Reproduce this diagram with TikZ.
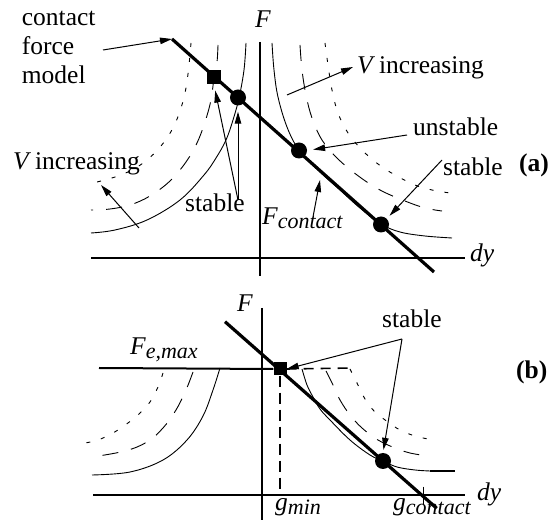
\documentclass[tikz,border=0pt]{standalone}
\usepackage{fontspec}
\setmainfont{Liberation Serif}
\usetikzlibrary{arrows.meta}
\newcommand{\subtxt}[1]{\raisebox{-4pt}{\fontsize{22}{24}\selectfont\itshape #1}}
\begin{document}
\begin{tikzpicture}[x=1pt,y=-1pt,
  cline/.style={line width=3.2pt},
  axisl/.style={line width=2pt},
  curve/.style={line width=0.9pt},
  dashc/.style={curve, dash pattern=on 16pt off 13pt},
  dotc/.style={curve, dash pattern=on 4pt off 11pt},
  arr/.style={line width=1pt, -{Triangle[length=12pt,width=6.5pt]}},
  lbl/.style={inner sep=0pt, font=\fontsize{25.5}{30}\selectfont},
  sqm/.style={rectangle, fill, minimum size=14pt, inner sep=0pt},
  dotm/.style={circle, fill, minimum size=16pt, inner sep=0pt}]
\useasboundingbox (0,0) rectangle (555,529);

% ---------------- panel (a) ----------------
\coordinate (ayt) at (259.5,42);
\coordinate (ayb) at (259.5,276);
\coordinate (axl) at (91,257.7);
\coordinate (axr) at (465,257.7);
\draw[axisl] (ayt) -- (ayb);
\draw[axisl] (axl) -- (axr);

% curves left branch
\draw[curve] plot[smooth, tension=0.6] coordinates {(246,43) (244,70) (239,98) (233,120) (226,140) (216,158) (204,175) (180,200) (147,220) (115,230) (91,233)};
\draw[dashc] plot[smooth, tension=0.6] coordinates {(218,45) (217,62) (214,78) (211,100) (205,122) (197,143) (186,162) (170,181) (150,196) (130,205) (110,209) (91,210)};
\draw[dotc] plot[smooth, tension=0.6] coordinates {(191,43) (189,65) (186,88) (181,108) (173,128) (161,146) (147,160) (132,170) (115,177) (97,182)};
% curves right branch
\draw[curve] plot[smooth, tension=0.6] coordinates {(272,43) (274,70) (278,97) (287,127) (299,150) (320,172) (340,190) (360,208) (381,224) (400,232) (425,236) (452,238)};
\draw[dashc] plot[smooth, tension=0.6] coordinates {(300,45) (302,70) (306,95) (312,118) (322,140) (337,158) (357,175) (380,190) (405,201) (425,208) (442,211)};
\draw[dotc] plot[smooth, tension=0.6] coordinates {(325,43) (328,65) (332,90) (338,113) (348,133) (362,150) (378,164) (395,175) (415,185) (432,190) (450,193)};

% contact force line
\coordinate (la1) at (172,39);
\coordinate (la2) at (434,272);
\draw[cline] (la1) -- (la2);
\node[sqm] (sqa) at (214,77.5) {};
\node[dotm] (ca1) at (238,97.5) {};
\node[dotm] (ca2) at (299,150.5) {};
\node[dotm] (ca3) at (381,224.5) {};

% labels (a)
\node[lbl, anchor=base] (Fa) at (263,28) {\itshape F};
\node[lbl, anchor=base west] (dya) at (470,262) {\itshape dy};
\node[lbl, anchor=base west] (cfm1) at (21.7,26) {contact};
\node[lbl, anchor=base west] (cfm2) at (21.7,55) {force};
\node[lbl, anchor=base west] (cfm3) at (21.7,84) {model};
\node[lbl, anchor=base west] (vil) at (13,170) {{\itshape V} increasing};
\node[lbl, anchor=base west] (vir) at (357,74) {{\itshape V} increasing};
\node[lbl, anchor=base west] (uns) at (413,136) {unstable};
\node[lbl, anchor=base west] (sar) at (443,176) {stable};
\node[lbl, anchor=base west] (sal) at (185,212) {stable};
\node[lbl, anchor=base west] (fc) at (262,225) {{\itshape F}\subtxt{contact}};
\node[lbl, anchor=base west] (pa) at (519,172) {\bfseries (a)};

% arrows (a)
\coordinate (cfmS) at (103,50);
\draw[arr] (cfmS) -- (la1);
\coordinate (vilS) at (139,228);
\coordinate (vilE) at (101,185);
\draw[arr] (vilS) -- (vilE);
\coordinate (virS) at (287,95);
\coordinate (virE) at (353,67);
\draw[arr] (virS) -- (virE);
\coordinate (unsS) at (407,135);
\draw[arr, shorten >=6pt] (unsS) -- (ca2.east);
\coordinate (sarS) at (442,160);
\draw[arr, shorten >=4pt] (sarS) -- (ca3.north east);
\coordinate (salS) at (238,200);
\draw[arr, shorten >=6pt] (salS) -- (sqa.south);
\draw[arr, shorten >=6pt] (salS) -- (ca1.south);
\coordinate (fcS) at (313,217);
\coordinate (fcE) at (320,180);
\draw[arr] (fcS) -- (fcE);

% ---------------- panel (b) ----------------
\coordinate (byt) at (261.7,308);
\coordinate (byb) at (261.7,520);
\coordinate (bxl) at (93,495);
\coordinate (bxr) at (465,495);
\draw[axisl] (byt) -- (byb);
\draw[axisl] (bxl) -- (bxr);

\coordinate (lb1) at (225,321.7);
\coordinate (lb2) at (436.7,508.3);
\node[sqm, minimum size=13pt] (sqb) at (280,369) {};
\coordinate (feL) at (99,368);
\coordinate (feR) at (353,368);
\coordinate (gmin) at (280,495);
\draw[axisl] (feL) -- (sqb.west);
\draw[line width=1.6pt, dash pattern=on 10pt off 7pt] (sqb.east) -- (feR);
\draw[line width=1.6pt, dash pattern=on 11pt off 6pt] (sqb.south) -- (gmin);

% curves (b) left
\draw[curve] plot[smooth, tension=0.6] coordinates {(220,368) (213,390) (203,416) (187,440) (163,460) (130,472) (92,475)};
\draw[dashc] plot[smooth, tension=0.6] coordinates {(193,372) (186,390) (176,410) (163,428) (147,442) (125,451) (92,457)};
\draw[dotc] plot[smooth, tension=0.6] coordinates {(163,373) (158,387) (150,402) (140,413) (128,423) (113,433) (98,440) (85,443)};
% curves (b) right
\draw[curve] plot[smooth, tension=0.6] coordinates {(302,369) (307,385) (313,397) (320,409) (330,420) (350,440) (370,455) (383,461) (397,467) (415,470) (430,471)};
\draw[line width=1.8pt] (430,471) -- (455,471);
\draw[dashc] plot[smooth, tension=0.6] coordinates {(326,371) (333,385) (340,400) (350,415) (362,428) (378,440) (395,448) (410,453) (428,456)};
\draw[dotc] plot[smooth, tension=0.6] coordinates {(350,369) (357,383) (365,399) (375,412) (388,422) (400,430) (415,436) (433,440)};

\draw[cline] (lb1) -- (lb2);
\node[sqm, minimum size=13pt] at (sqb) {};
\node[dotm] (cb1) at (383,461) {};
\coordinate (tk1) at (423.3,486.7);
\coordinate (tk2) at (423.3,505);
\draw[line width=1.3pt] (tk1) -- (tk2);

% labels (b)
\node[lbl, anchor=base] (Fb) at (245,312) {\itshape F};
\node[lbl, anchor=base west] (dyb) at (477,501) {\itshape dy};
\node[lbl, anchor=base west] (fem) at (130,355) {{\itshape F}\subtxt{e,max}};
\node[lbl, anchor=base west] (sb) at (382,328) {stable};
\node[lbl, anchor=base west] (pb) at (516,379) {\bfseries (b)};
\node[lbl, anchor=base west] (gm) at (275,511) {{\itshape g}\subtxt{min}};
\node[lbl, anchor=base west] (gc) at (393,511) {{\itshape g}\subtxt{contact}};

\coordinate (sbS) at (402,339);
\draw[arr] (sbS) -- (sqb.east);
\draw[arr, shorten >=3pt] (sbS) -- (cb1.north);
\end{tikzpicture}
\end{document}
